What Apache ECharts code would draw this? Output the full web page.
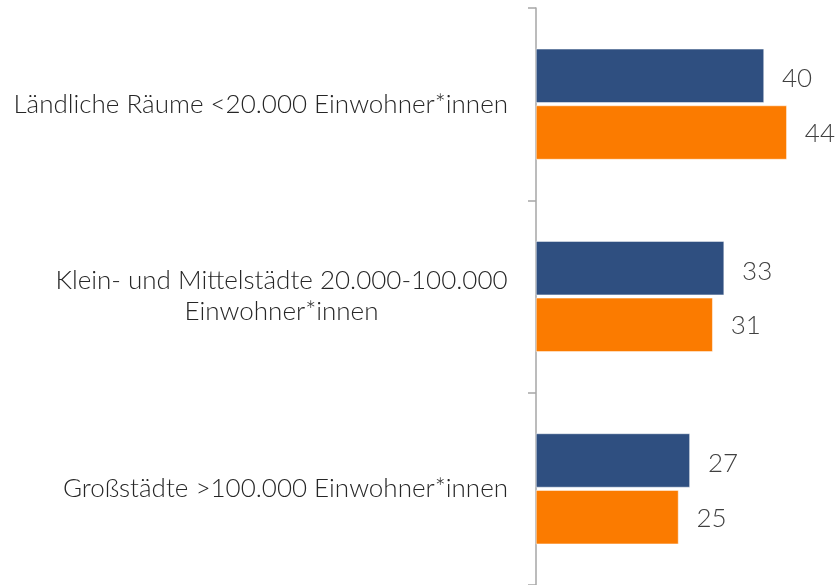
<!DOCTYPE html>
<html>
<head>
<meta charset="utf-8">
<script src="https://cdn.jsdelivr.net/npm/echarts@6/dist/echarts.min.js"></script>
<style>
  html, body { margin: 0; padding: 0; background: #fff; }
  #chart { width: 838px; height: 585px; }
</style>
</head>
<body>
<div id="chart"></div>
<script>
const categories = [
  'Ländliche Räume <20.000 Einwohner*innen',
  'Klein- und Mittelstädte 20.000-100.000\nEinwohner*innen',
  'Großstädte >100.000 Einwohner*innen'
]
const seriesBlue = [40, 33, 27]
const seriesOrange = [44, 31, 25]

const catFont = '300 26px Lato'

// width of the widest line, so multi-line labels can be centred as a block
const measure = (txt) => {
  const ctx = document.createElement('canvas').getContext('2d')
  ctx.font = catFont
  return Math.ceil(ctx.measureText(txt).width)
}

const chart = echarts.init(document.getElementById('chart'))

const labelStyle = (dy) => ({
  show: true,
  position: 'right',
  distance: 18,
  offset: [0, dy],
  color: '#404040',
  fontFamily: 'Lato',
  fontWeight: 300,
  fontSize: 26
})

chart.setOption({
  animation: false,
  grid: { left: 536, right: 17, top: 8, bottom: 0, containLabel: false },
  xAxis: {
    type: 'value',
    min: 0,
    max: 50,
    show: false
  },
  yAxis: {
    type: 'category',
    inverse: true,
    data: categories,
    axisLine: { show: true, lineStyle: { color: '#A6A6A6', width: 1.5 } },
    axisTick: { show: true, length: 8, lineStyle: { color: '#A6A6A6', width: 1.5 } },
    axisLabel: {
      margin: 28,
      color: '#262626',
      fontFamily: 'Lato',
      fontWeight: 300,
      fontSize: 26,
      lineHeight: 31,
      align: 'right',
      formatter: (val) => {
        if (!val.includes('\n')) return val
        const lines = val.split('\n')
        return lines.map(l => `{c|${l}}`).join('\n')
      },
      rich: {
        c: {
          width: measure('Klein- und Mittelstädte 20.000-100.000'),
          align: 'center',
          color: '#262626',
          fontFamily: 'Lato',
          fontWeight: 300,
          fontSize: 26,
          lineHeight: 31
        }
      }
    },
    splitLine: { show: false }
  },
  series: [
    {
      name: 'A',
      type: 'bar',
      data: seriesBlue,
      barWidth: 54,
      barGap: '5%',
      itemStyle: { color: '#2F4F80', borderColor: '#fff', borderWidth: 0.5 },
      label: labelStyle(3)
    },
    {
      name: 'B',
      type: 'bar',
      data: seriesOrange,
      barWidth: 54,
      itemStyle: { color: '#FB7B00', borderColor: '#fff', borderWidth: 0.5 },
      label: labelStyle(1)
    }
  ]
})
</script>
</body>
</html>
